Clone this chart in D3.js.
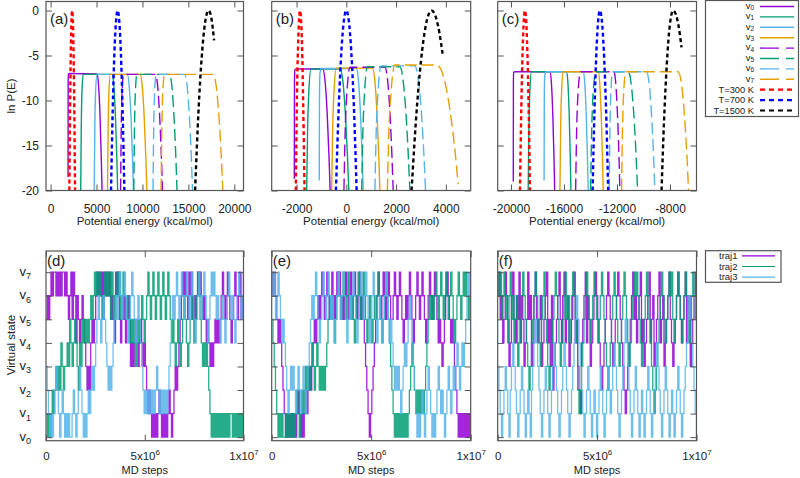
<!DOCTYPE html>
<html><head><meta charset="utf-8">
<script src="https://cdn.jsdelivr.net/npm/d3@7"></script>
<style>body{margin:0;background:#fff} text{font-family:"Liberation Sans",Arial,sans-serif;fill:#222}</style>
</head><body><script>
// ---------------- DATA ----------------
const ticksA = [0,5000,10000,15000,20000];
const ticksB = [-2000,0,2000,4000];
const ticksC = [-20000,-16000,-12000,-8000];
const lnPTicks = [0,-5,-10,-15,-20];
const stateTicks = [0,1,2,3,4,5,6,7];
const mdTicks = [0,5e6,1e7];
const mdTickLabels = [["0",""],["5x10","6"],["1x10","7"]];
const stateNames = ["0","1","2","3","4","5","6","7"];
const tempNames = ["T=300 K","T=700 K","T=1500 K"];
const trajNames = ["traj1","traj2","traj3"];

// ln P(E) curves, points [E, lnP], panel (a)
const statesA = [
 [[1900,-18.5],[1912,-8],[1940,-7.1],[2050,-7.0],[5050,-7.05],[5215,-8.2],[5380,-11.7],[5518,-16.4],[5600,-20]],
 [[3280,-20],[3334,-13.5],[3415,-9],[3550,-7.1],[6700,-7.1],[6880,-8.3],[7060,-11.8],[7210,-16.4],[7300,-20]],
 [[4750,-20],[4810,-13.5],[4900,-9],[5050,-7.1],[8350,-7.1],[8551,-8.3],[8752,-11.8],[8920,-16.4],[9020,-20]],
 [[6200,-20],[6260,-13.5],[6350,-9],[6500,-7.1],[9750,-7.1],[9969,-8.3],[10188,-11.8],[10370,-16.4],[10480,-20]],
 [[7620,-20],[7686,-13.5],[7785,-9],[7950,-7.1],[11420,-7.1],[11648,-8.3],[11876,-11.8],[12066,-16.4],[12180,-20]],
 [[9060,-20],[9128,-13.5],[9230,-9],[9400,-7.1],[12950,-7.1],[13193,-8.3],[13436,-11.8],[13639,-16.4],[13760,-20]],
 [[11150,-20],[11220,-13.5],[11325,-9],[11500,-7.1],[14600,-7.1],[14855,-8.3],[15110,-11.8],[15323,-16.4],[15450,-20]],
 [[12030,-20],[12104,-13.5],[12215,-9],[12400,-7.1],[17700,-7.1],[18015,-8.3],[18330,-11.8],[18593,-16.4],[18750,-20]]
];
const tempsA = [
 [[2040,-20],[2120,-11],[2200,-4.7],[2280,-1.0],[2350,0],[2420,-1.0],[2500,-4.7],[2580,-11],[2660,-20]],
 [[6580,-20],[6760,-11.1],[6950,-4.66],[7120,-1.23],[7300,0],[7480,-1.23],[7650,-4.66],[7840,-11.1],[8030,-20]],
 [[15730,-20],[16100,-11.2],[16450,-5.2],[16800,-1.48],[17200,0],[17500,-0.83],[17800,-3.33]]
];
// panel (b)
const statesB = [
 [[-2092,-18.7],[-2085,-8],[-2070,-6.6],[-2000,-6.5],[-950,-6.5],[-860,-7.7],[-770,-11.4],[-695,-16.3],[-650,-20]],
 [[-1594,-20],[-1559,-13.5],[-1507,-9],[-1420,-6.5],[-250,-6.5],[-145,-7.7],[-40,-11.4],[48,-16.3],[100,-20]],
 [[-1088,-18.9],[-1080,-10],[-1060,-7],[-1000,-6.45],[400,-6.45],[484,-7.7],[568,-11.4],[638,-16.3],[680,-20]],
 [[-590,-20],[-552,-13.5],[-495,-9],[-400,-6.4],[1050,-6.4],[1140,-7.6],[1230,-11.3],[1305,-16.2],[1350,-20]],
 [[-96,-20],[-47,-13.5],[27,-9],[150,-6.3],[1550,-6.3],[1650,-7.5],[1750,-11.2],[1834,-16.2],[1884,-20]],
 [[620,-20],[666,-13.5],[735,-9],[850,-6.25],[2150,-6.25],[2271,-7.5],[2392,-11.2],[2493,-16.2],[2554,-20]],
 [[1150,-20],[1200,-13.5],[1275,-9],[1400,-6.15],[2750,-6.15],[2880,-7.4],[3011,-11.1],[3120,-16.1],[3185,-20]],
 [[1650,-20],[1710,-13.5],[1800,-9],[1950,-6.05],[3640,-6.05],[3904,-7.3],[4168,-11.1],[4388,-16.1],[4494,-19.3]]
];
const tempsB = [
 [[-2030,-20],[-1990,-10.4],[-1940,-3.95],[-1900,-1],[-1860,0],[-1820,-1],[-1780,-3.95],[-1730,-11],[-1680,-20]],
 [[-418,-20],[-300,-10.4],[-200,-4.6],[-100,-1.16],[0,0],[100,-1.16],[200,-4.6],[300,-10.4],[414,-20]],
 [[2622,-20],[2850,-10.3],[3050,-4.4],[3250,-0.96],[3426,0],[3600,-0.75],[3750,-2.6],[3868,-4.8]]
];
// panel (c)
const statesC = [
 [[-19824,-19],[-19815,-8],[-19800,-6.9],[-19700,-6.8],[-17058,-6.8],[-16950,-8.0],[-16843,-11.55],[-16754,-16.3],[-16700,-20]],
 [[-18700,-20],[-18650,-13.5],[-18575,-9],[-18450,-6.8],[-15800,-6.8],[-15702,-8.0],[-15605,-11.55],[-15524,-16.3],[-15475,-20]],
 [[-17500,-18.9],[-17485,-10],[-17450,-7.2],[-17350,-6.8],[-14547,-6.8],[-14434,-8.0],[-14321,-11.55],[-14227,-16.3],[-14170,-20]],
 [[-16304,-20],[-16254,-13.5],[-16180,-9],[-16055,-6.8],[-13417,-6.8],[-13304,-8.0],[-13191,-11.55],[-13097,-16.3],[-13040,-20]],
 [[-15120,-20],[-15045,-13.5],[-14932,-9],[-14744,-6.8],[-12233,-6.8],[-12097,-8.0],[-11962,-11.55],[-11849,-16.3],[-11781,-20]],
 [[-13990,-20],[-13910,-13.5],[-13790,-9],[-13590,-6.8],[-11155,-6.8],[-10943,-8.0],[-10730,-11.55],[-10553,-16.3],[-10447,-20]],
 [[-12585,-20],[-12534,-13.5],[-12458,-9],[-12331,-6.8],[-9768,-6.8],[-9581,-8.0],[-9393,-11.55],[-9237,-16.3],[-9143,-20]],
 [[-11653,-20],[-11588,-13.5],[-11491,-9],[-11329,-6.8],[-7386,-6.8],[-7150,-8.0],[-6914,-11.55],[-6718,-16.3],[-6600,-20]]
];
const tempsC = [
 [[-19319,-20],[-19220,-10.9],[-19120,-4.46],[-19030,-1.09],[-18942,0],[-18855,-1.07],[-18765,-4.4],[-18665,-10.8],[-18565,-20]],
 [[-13839,-20],[-13700,-11.2],[-13550,-4.5],[-13420,-1.13],[-13289,0],[-13150,-0.99],[-13000,-4.26],[-12850,-9.8],[-12663,-20]],
 [[-8638,-20],[-8450,-12.3],[-8250,-6.2],[-8000,-1.47],[-7763,0],[-7550,-0.46],[-7350,-1.74],[-7130,-4.1]]
];

// virtual-state trajectories: state index per sample, 160 samples evenly spaced over 1e7 MD steps
// (each 16-digit group = 1e6 steps)
const trajD1 = Array.from("5656767767676776"+"7656757646545654"+"3232454567676757"+"6767565476754565"+"4565343454345434"+
                          "3212101010121010"+"1012101232345676"+"7657675656767656"+"5454343454545676"+"5676545676567567", Number);
const trajD2 = Array.from("1010121232324323"+"3435434543243545"+"4545656767676567"+"6767576567675676"+"5654545434545654"+
                          "5676567656765676"+"5676545434543456"+"5434565456765434"+"3432101010101010"+"1010110101010101", Number);
const trajD3 = Array.from("3210101232101210"+"1010012101232101"+"0121232345654565"+"4323234565676567"+"6545676545654321"+
                          "2121212123212121"+"2123456567656765"+"6765676545676567"+"6545676765654565"+"4567656545676567", Number);
const trajE1 = Array.from("7676545432101010"+"1010121010121232"+"3454565676567656"+"7656767565676567"+"5676567565432101"+
                          "2345676567656765"+"5676567654565676"+"5456765676545676"+"5676545434567654"+"5432101010101010", Number);
const trajE2 = Array.from("5432101010010101"+"0101210121232323"+"4323432323234565"+"6545676567656765"+"6545676567654565"+
                          "4565676545676543"+"2101010101010123"+"4321212121234565"+"6567656765676567"+"6545676567676567", Number);
const trajE3 = Array.from("7675676545432123"+"2321232123212345"+"6567654567656765"+"6545676567654565"+"6765456765676545"+
                          "6765456545676545"+"4323232123434565"+"4321010121012321"+"0101232121012321"+"2323432343456767", Number);
const trajF1 = Array.from("6756457653467546"+"5746534575634675"+"4563456745362345"+"6754674563456745"+"3214567465345676"+
                          "5432345676543456"+"7654321234567564"+"5674534567456345"+"6745634567543456"+"7654567456345675", Number);
const trajF2 = Array.from("7675676546756456"+"3456765432345676"+"5435675432345676"+"5434567564567654"+"2123456765456765"+
                          "4567654323456765"+"4345676543456767"+"6543456765432123"+"4567654567675456"+"7654567654567654", Number);
const trajF3 = Array.from("3210123210234321"+"0123210121023454"+"3210123210123432"+"1012343210123456"+"5432101232101210"+
                          "1232101232123432"+"1012345432101232"+"1012101232101234"+"3210123210121012"+"3210123456543210", Number);

// ---------------- STYLE ----------------
const stateColors = ["#9400d3","#009e73","#56b4e9","#e69f00"];
const tempColors = ["#ff0000","#0000ff","#000000"];
const frameColor = "#555";
const FONT = 12;

const svg = d3.select("body").append("svg").attr("width",800).attr("height",478);
const defs = svg.append("defs");

function frame(g,x0,x1,y0,y1){
  g.append("rect").attr("x",x0).attr("y",y0).attr("width",x1-x0).attr("height",y1-y0)
   .attr("fill","none").attr("stroke",frameColor).attr("stroke-width",1.2);
}
function styleAxis(sel){
  sel.select(".domain").remove();
  sel.selectAll(".tick line").attr("stroke",frameColor).attr("stroke-width",1);
  sel.selectAll(".tick text").attr("font-size",FONT).attr("fill","#222")
     .style("font-family","'Liberation Sans',Arial,sans-serif");
}

// ---------------- TOP PANELS ----------------
const TOP = {y0:1.5, y1:190.5};
const yTop = d3.scaleLinear().domain([-20,1]).range([TOP.y1,TOP.y0]);
const topPanels = [
  {lab:"(a)", x0:46,    x1:243.5, dom:[-500,21000],   ticks:ticksA, states:statesA, temps:tempsA, ylab:true},
  {lab:"(b)", x0:271.7, x1:470.7, dom:[-3000,5000],   ticks:ticksB, states:statesB, temps:tempsB, ylab:false},
  {lab:"(c)", x0:497.7, x1:696.5, dom:[-21000,-6000], ticks:ticksC, states:statesC, temps:tempsC, ylab:false}
];
topPanels.forEach((p,pi)=>{
  const g = svg.append("g");
  const x = d3.scaleLinear().domain(p.dom).range([p.x0,p.x1]);
  const cid = "clipT"+pi;
  defs.append("clipPath").attr("id",cid).append("rect")
    .attr("x",p.x0).attr("y",TOP.y0).attr("width",p.x1-p.x0).attr("height",TOP.y1-TOP.y0);
  const plot = g.append("g").attr("clip-path",`url(#${cid})`);
  const line = d3.line().x(d=>x(d[0])).y(d=>yTop(d[1])).curve(d3.curveMonotoneX);
  p.states.forEach((pts,i)=>{
    plot.append("path").attr("d",line(pts)).attr("fill","none")
      .attr("stroke",stateColors[i%4]).attr("stroke-width",1.4)
      .attr("stroke-dasharray", i>=4 ? "12,5" : null);
  });
  p.temps.forEach((pts,i)=>{
    plot.append("path").attr("d",line(pts)).attr("fill","none")
      .attr("stroke",tempColors[i]).attr("stroke-width",2.4)
      .attr("stroke-dasharray","4,3");
  });
  const ab = g.append("g").attr("transform",`translate(0,${TOP.y1})`)
    .call(d3.axisBottom(x).tickValues(p.ticks).tickSize(-6).tickPadding(14).tickFormat(d=>String(d)));
  styleAxis(ab);
  const at = g.append("g").attr("transform",`translate(0,${TOP.y0})`)
    .call(d3.axisTop(x).tickValues(p.ticks).tickSize(-6).tickFormat(""));
  styleAxis(at);
  const al = g.append("g").attr("transform",`translate(${p.x0},0)`)
    .call(d3.axisLeft(yTop).tickValues(lnPTicks).tickSize(-6).tickPadding(7).tickFormat(p.ylab ? (d=>String(d)) : ""));
  styleAxis(al);
  const ar = g.append("g").attr("transform",`translate(${p.x1},0)`)
    .call(d3.axisRight(yTop).tickValues(lnPTicks).tickSize(-6).tickFormat(""));
  styleAxis(ar);
  frame(g,p.x0,p.x1,TOP.y0,TOP.y1);
  g.append("text").attr("x",(p.x0+p.x1)/2).attr("y",224.5).attr("text-anchor","middle")
    .attr("font-size",11.5).text("Potential energy (kcal/mol)");
  g.append("text").attr("x",p.x0+4).attr("y",24).attr("font-size",15).text(p.lab);
});
svg.append("text").attr("transform","translate(15,96) rotate(-90)").attr("text-anchor","middle")
  .attr("font-size",11.5).text("ln P(E)");

// top legend
const lg = svg.append("g");
lg.append("rect").attr("x",705.5).attr("y",0.5).attr("width",93).attr("height",116)
  .attr("fill","#fff").attr("stroke",frameColor).attr("stroke-width",1.2);
stateNames.forEach((s,i)=>{
  const yy = 6.5 + i*10.4;
  const t = lg.append("text").attr("x",754).attr("y",yy+2.2).attr("text-anchor","end").attr("font-size",9.5);
  t.append("tspan").text("v");
  t.append("tspan").attr("font-size",6.5).attr("dy",1.2).text(s);
  lg.append("line").attr("x1",760).attr("x2",794).attr("y1",yy).attr("y2",yy)
    .attr("stroke",stateColors[i%4]).attr("stroke-width",1.4)
    .attr("stroke-dasharray", i>=4 ? "19,7" : null);
});
tempNames.forEach((s,i)=>{
  const yy = 6.5 + (8+i)*10.4;
  lg.append("text").attr("x",754).attr("y",yy+3.3).attr("text-anchor","end").attr("font-size",9.3).text(s);
  lg.append("line").attr("x1",760).attr("x2",794).attr("y1",yy).attr("y2",yy)
    .attr("stroke",tempColors[i]).attr("stroke-width",2.2).attr("stroke-dasharray","5,4");
});

// ---------------- BOTTOM PANELS ----------------
const BOT = {y0:251, y1:440.7};
const yBot = d3.scaleLinear().domain([-0.15,7.9]).range([BOT.y1,BOT.y0]);
const trajColors = ["#9400d3","#009e73","#56b4e9"];
const botPanels = [
  {lab:"(d)", x0:46,    x1:243.5, trajs:[trajD1,trajD2,trajD3], ylab:true},
  {lab:"(e)", x0:271.7, x1:470.7, trajs:[trajE1,trajE2,trajE3], ylab:false},
  {lab:"(f)", x0:497.7, x1:696.5, trajs:[trajF1,trajF2,trajF3], ylab:false}
];
botPanels.forEach((p,pi)=>{
  const g = svg.append("g");
  const x = d3.scaleLinear().domain([0,1e7]).range([p.x0,p.x1]);
  const cid = "clipB"+pi;
  defs.append("clipPath").attr("id",cid).append("rect")
    .attr("x",p.x0).attr("y",BOT.y0).attr("width",p.x1-p.x0).attr("height",BOT.y1-BOT.y0);
  const plot = g.append("g").attr("clip-path",`url(#${cid})`);
  p.trajs.forEach((arr,k)=>{
    const n = arr.length;
    const pts = arr.map((s,i)=>[i*1e7/(n-1), s]);
    const line = d3.line().x(d=>x(d[0])).y(d=>yBot(d[1])).curve(d3.curveStepAfter);
    plot.append("path").attr("d",line(pts)).attr("fill","none")
      .attr("stroke",trajColors[k]).attr("stroke-width",1.3).attr("stroke-opacity",0.85);
  });
  const ab = g.append("g").attr("transform",`translate(0,${BOT.y1})`)
    .call(d3.axisBottom(x).tickValues(mdTicks).tickSize(-6).tickFormat(""));
  styleAxis(ab);
  ab.selectAll(".tick").each(function(d,i){
    const t = d3.select(this).append("text").attr("y",19.5).attr("text-anchor","middle")
      .attr("font-size",11.5).attr("fill","#222");
    t.append("tspan").text(mdTickLabels[i][0]);
    if(mdTickLabels[i][1]) t.append("tspan").attr("font-size",8).attr("dy",-5).text(mdTickLabels[i][1]);
  });
  const at = g.append("g").attr("transform",`translate(0,${BOT.y0})`)
    .call(d3.axisTop(x).tickValues(mdTicks).tickSize(-6).tickFormat(""));
  styleAxis(at);
  const al = g.append("g").attr("transform",`translate(${p.x0},0)`)
    .call(d3.axisLeft(yBot).tickValues(stateTicks).tickSize(-6).tickFormat(""));
  styleAxis(al);
  if(p.ylab){
    al.selectAll(".tick").each(function(d,i){
      const t = d3.select(this).append("text").attr("x",-15).attr("y",3).attr("text-anchor","end")
        .attr("font-size",13).attr("fill","#222");
      t.append("tspan").text("v");
      t.append("tspan").attr("font-size",9).attr("dy",3.5).text(stateNames[i]);
    });
  }
  const ar = g.append("g").attr("transform",`translate(${p.x1},0)`)
    .call(d3.axisRight(yBot).tickValues(stateTicks).tickSize(-6).tickFormat(""));
  styleAxis(ar);
  frame(g,p.x0,p.x1,BOT.y0,BOT.y1);
  g.append("text").attr("x",(p.x0+p.x1)/2).attr("y",474).attr("text-anchor","middle")
    .attr("font-size",11).text("MD steps");
  g.append("text").attr("x",p.x0+1).attr("y",266).attr("font-size",15).text(p.lab);
});
svg.append("text").attr("transform","translate(15,345) rotate(-90)").attr("text-anchor","middle")
  .attr("font-size",11.5).text("Virtual state");

// bottom legend
const lb = svg.append("g");
lb.append("rect").attr("x",705.5).attr("y",250.7).attr("width",75.5).attr("height",31.6)
  .attr("fill","#fff").attr("stroke",frameColor).attr("stroke-width",1.2);
trajNames.forEach((s,i)=>{
  const yy = 255.9 + i*10.6;
  lb.append("text").attr("x",737.5).attr("y",yy+3.3).attr("text-anchor","end").attr("font-size",9.5).text(s);
  lb.append("line").attr("x1",742).attr("x2",775).attr("y1",yy).attr("y2",yy)
    .attr("stroke",trajColors[i]).attr("stroke-width",1.2);
});
</script></body></html>
